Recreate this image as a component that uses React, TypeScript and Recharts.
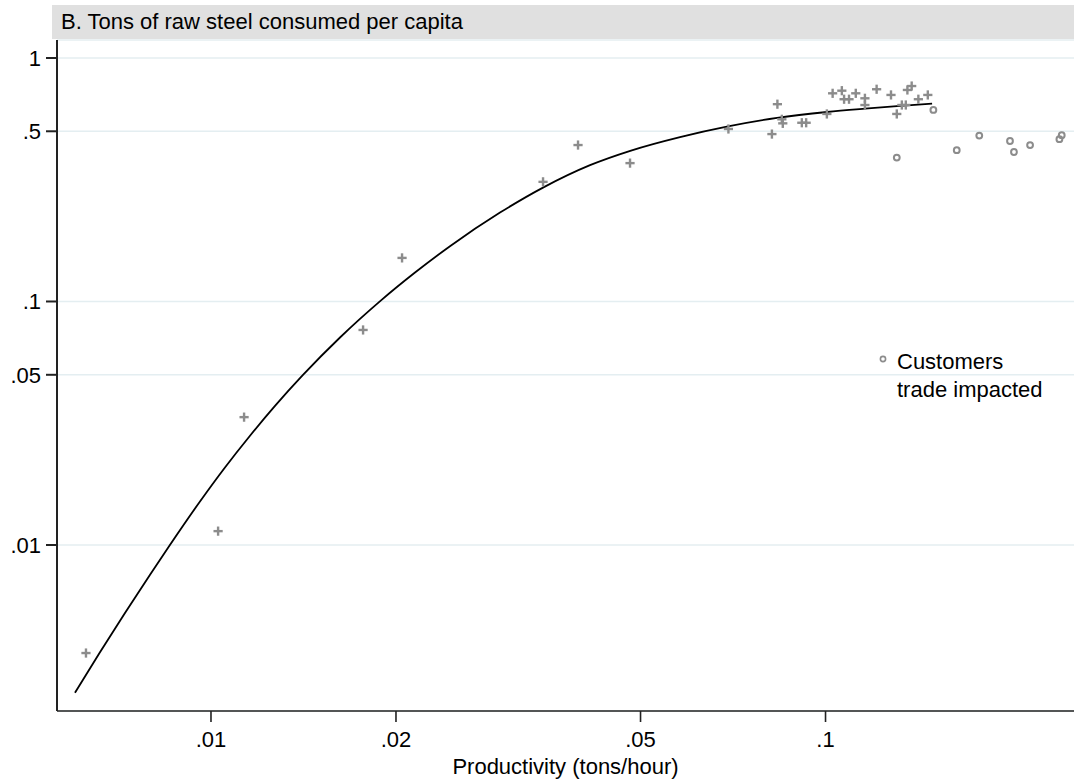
import React from "react";
import {
  ScatterChart,
  Scatter,
  XAxis,
  YAxis,
  CartesianGrid,
} from "recharts";

// productivity (tons/hour) vs raw steel per capita
const plusX = [
  0.00626, 0.01027, 0.01132, 0.01768, 0.02046, 0.0347, 0.03956, 0.04807,
  0.0695, 0.0818, 0.0835, 0.0849, 0.0852, 0.0915, 0.093, 0.1005, 0.1027,
  0.1063, 0.1072, 0.1092, 0.112, 0.1159, 0.1159, 0.1211, 0.1278, 0.1306,
  0.1331, 0.1351, 0.1359, 0.1381, 0.1416, 0.1467,
];
const plusY = [
  0.0036, 0.0114, 0.0335, 0.0764, 0.151, 0.31, 0.439, 0.37, 0.511, 0.487,
  0.646, 0.56, 0.539, 0.542, 0.542, 0.589, 0.716, 0.734, 0.677, 0.677, 0.716,
  0.683, 0.641, 0.744, 0.705, 0.589, 0.641, 0.641, 0.739, 0.767, 0.677, 0.705,
];

// customers trade impacted
const circleX = [
  0.1498, 0.1306, 0.1635, 0.1779, 0.1996, 0.2026, 0.2152, 0.2402, 0.2423,
];
const circleY = [0.612, 0.39, 0.418, 0.48, 0.456, 0.411, 0.439, 0.464, 0.482];

// fitted curve
const fitX = [
  0.006007, 0.006597, 0.007245, 0.007958, 0.008552, 0.009596, 0.010538,
  0.011574, 0.012711, 0.014116, 0.016216, 0.01891, 0.021478, 0.024484,
  0.029532, 0.034696, 0.04138, 0.04825, 0.05797, 0.069396, 0.083384,
  0.100563, 0.115944, 0.130742, 0.149078,
];
const fitY = [
  0.002474, 0.003626, 0.005256, 0.007544, 0.009906, 0.01509, 0.020814,
  0.028106, 0.037265, 0.049945, 0.071146, 0.10105, 0.13145, 0.16866, 0.23178,
  0.29359, 0.36293, 0.41662, 0.47321, 0.52368, 0.56754, 0.60011, 0.61914,
  0.63394, 0.64911,
];

const xTicks = [0.01, 0.02, 0.05, 0.1];
const yTicks = [0.01, 0.05, 0.1, 0.5, 1];

const steel = plusX.map((x, i) => ({ x, y: plusY[i] }));
const impacted = circleX.map((x, i) => ({ x, y: circleY[i] }));
const fit = fitX.map((x, i) => ({ x, y: fitY[i] }));

const FONT = "'Liberation Sans', Arial, Helvetica, sans-serif";
const GRAY = "#8c8c8c";

const fmt = (v: number) => String(v).replace(/^0\./, ".");

const PlusMark = (props: any) => {
  const { cx, cy } = props;
  if (cx == null || cy == null) return <g />;
  return (
    <g>
      <line x1={cx - 4.6} x2={cx + 4.6} y1={cy} y2={cy} stroke={GRAY} strokeWidth={2.4} />
      <line x1={cx} x2={cx} y1={cy - 4.6} y2={cy + 4.6} stroke={GRAY} strokeWidth={2.4} />
    </g>
  );
};

const CircleMark = (props: any) => {
  const { cx, cy } = props;
  if (cx == null || cy == null) return <g />;
  return <circle cx={cx} cy={cy} r={2.9} fill="none" stroke={GRAY} strokeWidth={2} />;
};

export default function App() {
  return (
    <div
      style={{
        position: "absolute",
        left: 0,
        top: 0,
        width: 1074,
        height: 782,
        background: "#fff",
        fontFamily: FONT,
      }}
    >
      <ScatterChart
        width={1074}
        height={782}
        margin={{ top: 40, right: 0, bottom: 0, left: 0 }}
      >
        <CartesianGrid vertical={false} stroke="#e4eef1" strokeWidth={1.6} />
        <XAxis
          type="number"
          dataKey="x"
          scale="log"
          domain={[0.005616, 0.2537]}
          allowDataOverflow
          ticks={xTicks}
          tickFormatter={fmt}
          height={71}
          tickSize={11}
          tickMargin={9}
          stroke="#222"
          strokeWidth={1.6}
          tick={{ fill: "#000", fontSize: 22, fontFamily: FONT }}
          label={{
            value: "Productivity (tons/hour)",
            position: "insideBottom",
            offset: 8,
            fill: "#000",
            fontSize: 22,
            fontFamily: FONT,
          }}
        />
        <YAxis
          type="number"
          dataKey="y"
          scale="log"
          domain={[0.002081, 1.1853]}
          allowDataOverflow
          ticks={yTicks}
          tickFormatter={fmt}
          width={57}
          tickSize={11}
          tickMargin={5}
          stroke="#222"
          strokeWidth={2}
          tick={{ fill: "#000", fontSize: 22, fontFamily: FONT }}
        />
        <Scatter
          data={fit}
          shape={() => <g />}
          line={{ stroke: "#000", strokeWidth: 1.8 }}
          lineJointType="monotoneX"
          isAnimationActive={false}
        />
        <Scatter data={steel} shape={PlusMark} isAnimationActive={false} />
        <Scatter data={impacted} shape={CircleMark} isAnimationActive={false} />
      </ScatterChart>

      {/* title band */}
      <div
        style={{
          position: "absolute",
          left: 52,
          top: 5,
          width: 1022,
          height: 34,
          background: "#e0e0e0",
          color: "#000",
          fontSize: 22,
          lineHeight: "34px",
          paddingLeft: 9,
          boxSizing: "border-box",
          whiteSpace: "nowrap",
        }}
      >
        B. Tons of raw steel consumed per capita
      </div>

      {/* legend */}
      <svg
        width={10}
        height={10}
        style={{ position: "absolute", left: 878, top: 354 }}
      >
        <circle cx={5} cy={5} r={2.6} fill="none" stroke={GRAY} strokeWidth={1.6} />
      </svg>
      <div
        style={{
          position: "absolute",
          left: 897,
          top: 348,
          fontSize: 22,
          lineHeight: "28px",
          color: "#000",
          whiteSpace: "nowrap",
        }}
      >
        Customers
        <br />
        trade impacted
      </div>
    </div>
  );
}
